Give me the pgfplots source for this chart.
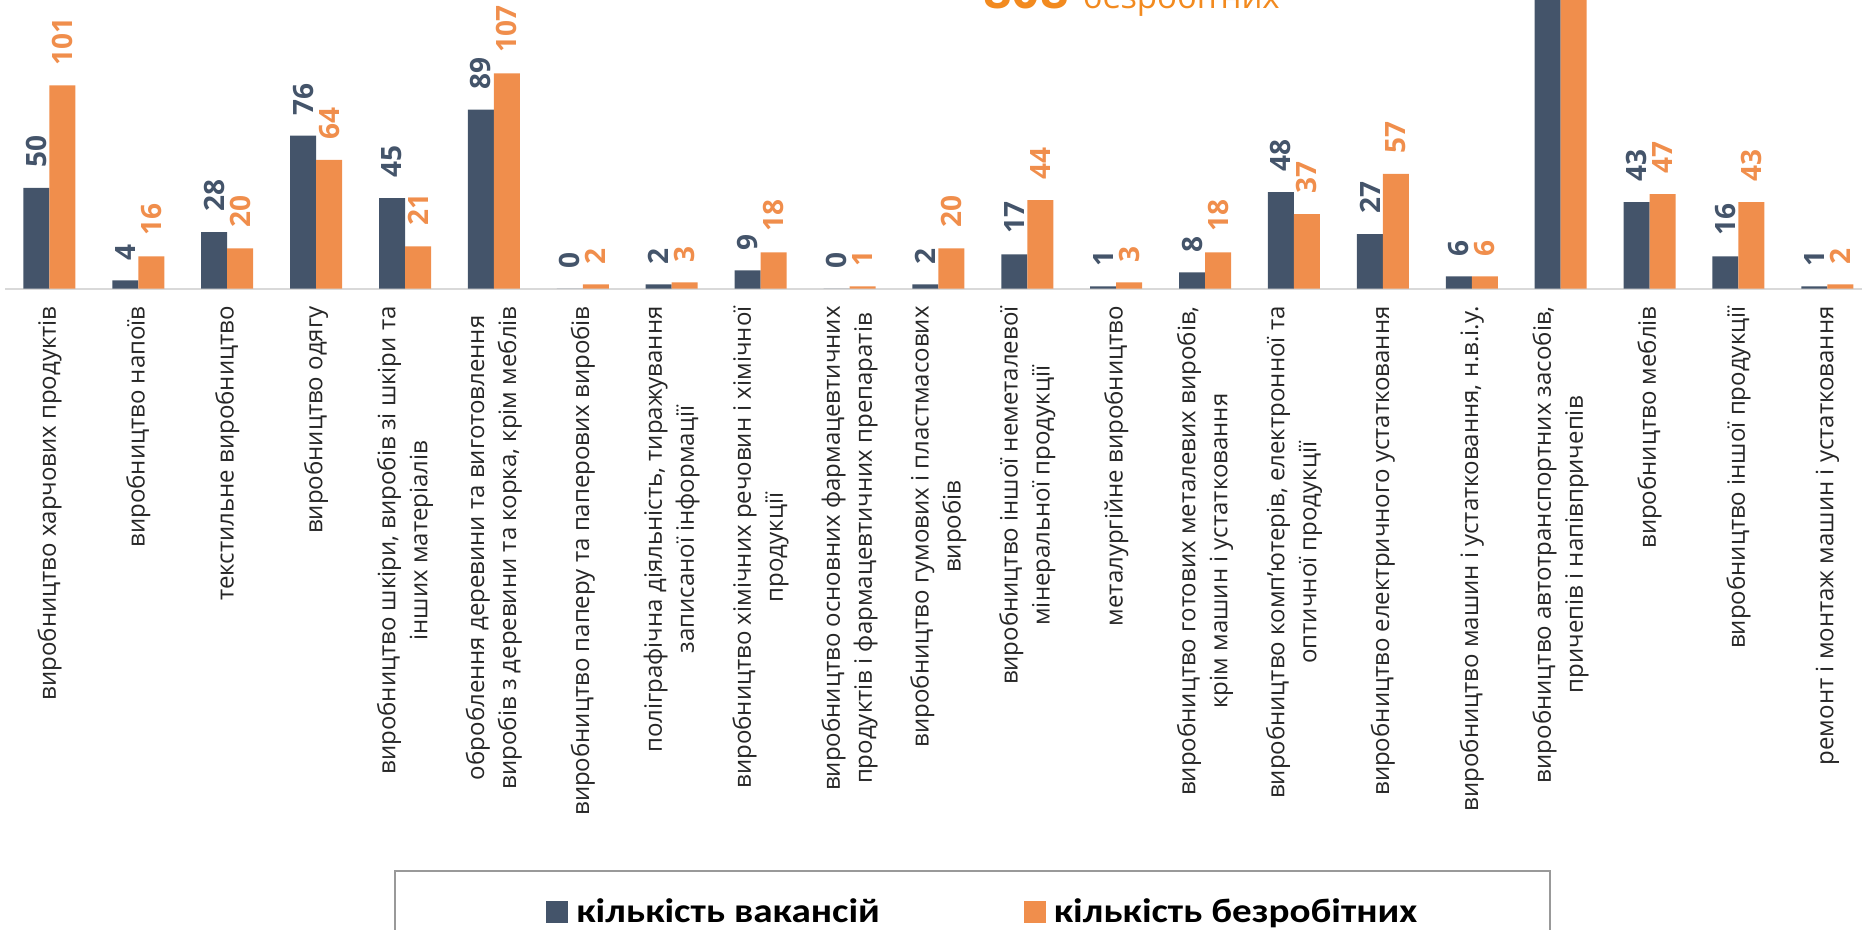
\documentclass[border=0pt]{standalone}
\usepackage{pgfplots}
\pgfplotsset{compat=1.18}
\usepackage{fontspec}
\setmainfont{Open Sans}
\newfontfamily\legfont[FakeStretch=1.15]{Carlito}
\definecolor{vac}{HTML}{44546A}
\definecolor{unemp}{HTML}{F08E4C}
\definecolor{hl}{HTML}{F28A1F}

\pgfplotsset{
  firstleg/.style={legend image code/.code={\path (-13.3pt,0pt); \fill[##1] (0pt,-5.5pt) rectangle (11pt,5.5pt);}},
}

\pgfplotstableread{
x vac unemp
0 50 101
1 4 16
2 28 20
3 76 64
4 45 21
5 89 107
6 0 2
7 2 3
8 9 18
9 0 1
10 2 20
11 17 44
12 1 3
13 8 18
14 48 37
15 27 57
16 6 6
17 400 808
18 43 47
19 16 43
20 1 2
}\datatable

\begin{document}
\begin{tikzpicture}
\begin{axis}[
 scale only axis, width=928.5pt, height=144.25pt,
 ybar=0pt, bar width=13pt,
 xmin=-0.5, xmax=20.39, ymin=0, ymax=143.5,
 clip mode=individual,
 axis x line*=bottom, axis y line=none,
 x axis line style={-, draw=black!15, line width=1pt},
 xtick={0,...,20}, major tick length=0pt,
 xticklabels={
  {виробництво харчових продуктів},
  {виробництво напоїв},
  {текстильне виробництво},
  {виробництво одягу},
  {виробництво шкіри, виробів зі шкіри та\\інших матеріалів},
  {оброблення деревини та виготовлення\\виробів з деревини та корка, крім меблів},
  {виробництво паперу та паперових виробів},
  {поліграфічна діяльність, тиражування\\записаної інформації},
  {виробництво хімічних речовин і хімічної\\продукції},
  {виробництво основних фармацевтичних\\продуктів і фармацевтичних препаратів},
  {виробництво гумових і пластмасових\\виробів},
  {виробництво іншої неметалевої\\мінеральної продукції},
  {металургійне виробництво},
  {виробництво готових металевих виробів,\\крім машин і устатковання},
  {виробництво комп'ютерів, електронної та\\оптичної продукції},
  {виробництво електричного устатковання},
  {виробництво машин і устатковання, н.в.і.у.},
  {виробництво автотранспортних засобів,\\причепів і напівпричепів},
  {виробництво меблів},
  {виробництво іншої продукції},
  {ремонт і монтаж машин і устатковання}},
 xticklabel style={rotate=90, anchor=east, align=center, inner sep=0pt,
   font=\fontsize{12}{16}\selectfont, text=black!85},
 xticklabel shift=8.75pt,
 nodes near coords={\pgfmathprintnumber[assume math mode=true]{\pgfplotspointmeta}},
 every node near coord/.append style={rotate=90, anchor=west, inner ysep=0pt, inner xsep=10pt,
   font=\fontsize{14}{14}\selectfont\bfseries},
 legend columns=2,
 legend style={at={(axis description cs:0.521,-2.0156)}, anchor=north,
   draw=black!40, line width=1pt, inner xsep=62.3pt, inner ysep=12pt,
   font=\legfont\fontsize{17}{17}\selectfont\bfseries,
   /tikz/every even column/.append style={column sep=68pt},
   nodes={inner xsep=4pt}},
 legend cell align=left,
 legend image code/.code={\fill[#1] (0pt,-5.5pt) rectangle (11pt,5.5pt);},
]
\addplot[fill=vac, draw=none, every node near coord/.append style={text=vac}, firstleg]
  table[x=x, y=vac] {\datatable};
\addplot[fill=unemp, draw=none, every node near coord/.append style={text=unemp}]
  table[x=x, y=unemp] {\datatable};
\legend{кількість вакансій, кількість безробітних}
\node[anchor=base west, text=hl, inner sep=0pt] at (axis cs:10.5,139.5)
  {{\fontsize{25}{25}\selectfont\bfseries 808}\hspace{7pt}{\fontsize{16.5}{16.5}\selectfont безробітних}};
\end{axis}
\pgfresetboundingbox
\path[use as bounding box] (current axis.north west) ++(-2.5pt,0pt) rectangle ++(931pt,-465pt);
\end{tikzpicture}
\end{document}
